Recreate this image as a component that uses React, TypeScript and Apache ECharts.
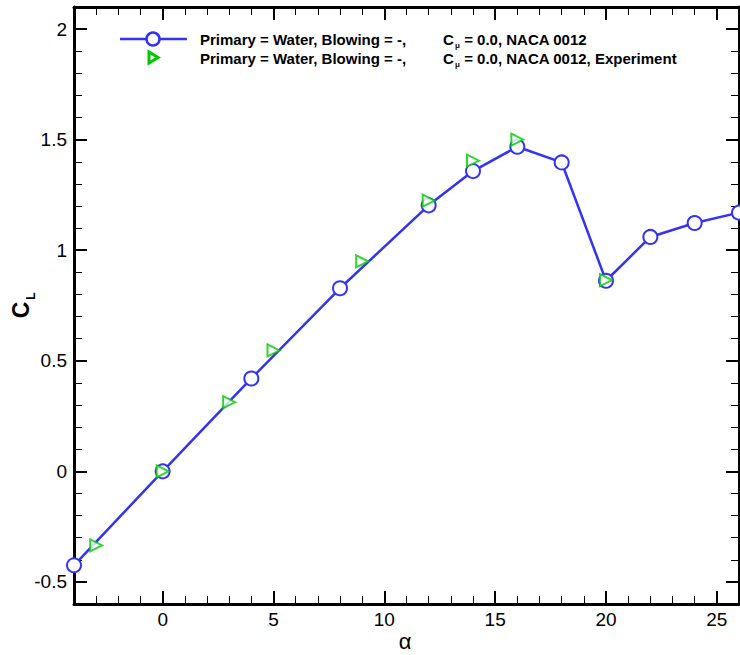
import React, { useEffect, useRef } from "react";
import * as echarts from "echarts";

const alphaSim = [-4, 0, 4, 8, 12, 14, 16, 18, 20, 22, 24, 26];
const clSim = [-0.425, 0, 0.42, 0.828, 1.203, 1.358, 1.468, 1.397, 0.862, 1.06, 1.123, 1.17];
const alphaExp = [-3, 0, 3, 5, 9, 12, 14, 16, 20];
const clExp = [-0.335, 0, 0.313, 0.547, 0.95, 1.224, 1.405, 1.5, 0.865];
const xMajorTicks = [0, 5, 10, 15, 20, 25];
const yMajorTicks = [-0.5, 0, 0.5, 1, 1.5, 2];
const legendRow = "Primary = Water, Blowing = -,";
const legendSim = " = 0.0, NACA 0012";
const legendExp = " = 0.0, NACA 0012, Experiment";

const BLUE = "#3333f5";
const GREEN = "#00c800";
const FONT = "'Liberation Sans', Arial, Helvetica, sans-serif";

export default function App() {
  const ref = useRef<HTMLDivElement>(null);
  useEffect(() => {
    if (!ref.current) return;
    const chart = echarts.init(ref.current, null, { renderer: "svg" });
    const X = { min: -4, max: 26 };
    const Y = { min: -0.6, max: 2.1 };
    const mkX = (pos: string, major: boolean, label: boolean) => ({
      type: "value",
      ...X,
      position: pos,
      ...(major ? {} : { interval: 1 }),
      axisLine: { show: major, onZero: false, lineStyle: { color: "#000", width: 3 } },
      axisTick: major
        ? { show: true, inside: true, length: 13, customValues: xMajorTicks, lineStyle: { color: "#000", width: 2 } }
        : { show: true, inside: true, length: 8, lineStyle: { color: "#000", width: 1 } },
      axisLabel: label
        ? { show: true, customValues: xMajorTicks, fontSize: 19, color: "#000", fontFamily: FONT, margin: 6 }
        : { show: false },
      splitLine: { show: false },
    });
    const mkY = (pos: string, major: boolean, label: boolean) => ({
      type: "value",
      ...Y,
      position: pos,
      ...(major ? {} : { interval: 0.1 }),
      axisLine: { show: major, onZero: false, lineStyle: { color: "#000", width: 3 } },
      axisTick: major
        ? { show: true, inside: true, length: 13, customValues: yMajorTicks, lineStyle: { color: "#000", width: 2 } }
        : { show: true, inside: true, length: 8, lineStyle: { color: "#000", width: 1 } },
      axisLabel: label
        ? { show: true, customValues: yMajorTicks, fontSize: 19, color: "#000", fontFamily: FONT, margin: 7 }
        : { show: false },
      splitLine: { show: false },
    });
    const legendText = (x: number, y: number, text: string, size = 15) => ({
      type: "text",
      x,
      y,
      style: { text, fontSize: size, fontWeight: "bold", fontFamily: FONT, fill: "#000", textVerticalAlign: "middle" },
    });
    chart.setOption({
      animation: false,
      backgroundColor: "#fff",
      grid: { left: 74, right: 1, top: 7, bottom: 51, containLabel: false, outerBoundsMode: "none" },
      xAxis: [mkX("bottom", true, true), mkX("bottom", false, false), mkX("top", true, false), mkX("top", false, false)],
      yAxis: [mkY("left", true, true), mkY("left", false, false), mkY("right", true, false), mkY("right", false, false)],
      series: [
        {
          type: "line",
          xAxisIndex: 0,
          yAxisIndex: 0,
          data: alphaSim.map((a, i) => [a, clSim[i]]),
          symbol: "emptyCircle",
          symbolSize: 14,
          showAllSymbol: true,
          clip: false,
          lineStyle: { color: BLUE, width: 2.5 },
          itemStyle: { color: BLUE, borderColor: BLUE, borderWidth: 2.5 },
          z: 3,
        },
        {
          type: "scatter",
          xAxisIndex: 0,
          yAxisIndex: 0,
          data: alphaExp.map((a, i) => [a, clExp[i]]),
          symbol: "emptyTriangle",
          symbolRotate: -90,
          symbolSize: 12,
          itemStyle: { color: GREEN, borderColor: GREEN, borderWidth: 3 },
          z: 4,
        },
      ],
      graphic: [
        { type: "line", shape: { x1: 120, y1: 39, x2: 187, y2: 39 }, style: { stroke: BLUE, lineWidth: 2.5 } },
        { type: "circle", shape: { cx: 153, cy: 39, r: 6.5 }, style: { stroke: BLUE, lineWidth: 2.5, fill: "#fff" } },
        {
          type: "polygon",
          shape: { points: [[149, 52], [149, 63], [158, 57.5]] },
          style: { stroke: GREEN, lineWidth: 3, fill: "none" },
        },
        legendText(200, 39, legendRow),
        legendText(443, 39, "C"),
        legendText(455, 45, "\u03bc", 8),
        legendText(460, 39, legendSim),
        legendText(200, 58, legendRow),
        legendText(443, 58, "C"),
        legendText(455, 64, "\u03bc", 8),
        legendText(460, 58, legendExp),
        {
          type: "text",
          x: 405,
          y: 641,
          style: { text: "\u03b1", fontSize: 22, fontFamily: FONT, fill: "#000", textAlign: "center", textVerticalAlign: "middle" },
        },
        {
          type: "text",
          x: 21,
          y: 310,
          rotation: Math.PI / 2,
          style: { text: "C", fontSize: 23, fontWeight: "bold", fontFamily: FONT, fill: "#000", textAlign: "center", textVerticalAlign: "middle" },
        },
        {
          type: "text",
          x: 31,
          y: 296,
          rotation: Math.PI / 2,
          style: { text: "L", fontSize: 12, fontWeight: "bold", fontFamily: FONT, fill: "#000", textAlign: "center", textVerticalAlign: "middle" },
        },
      ],
    });
    return () => chart.dispose();
  }, []);
  return <div ref={ref} style={{ position: "fixed", left: 0, top: 0, width: 740, height: 655 }} />;
}
